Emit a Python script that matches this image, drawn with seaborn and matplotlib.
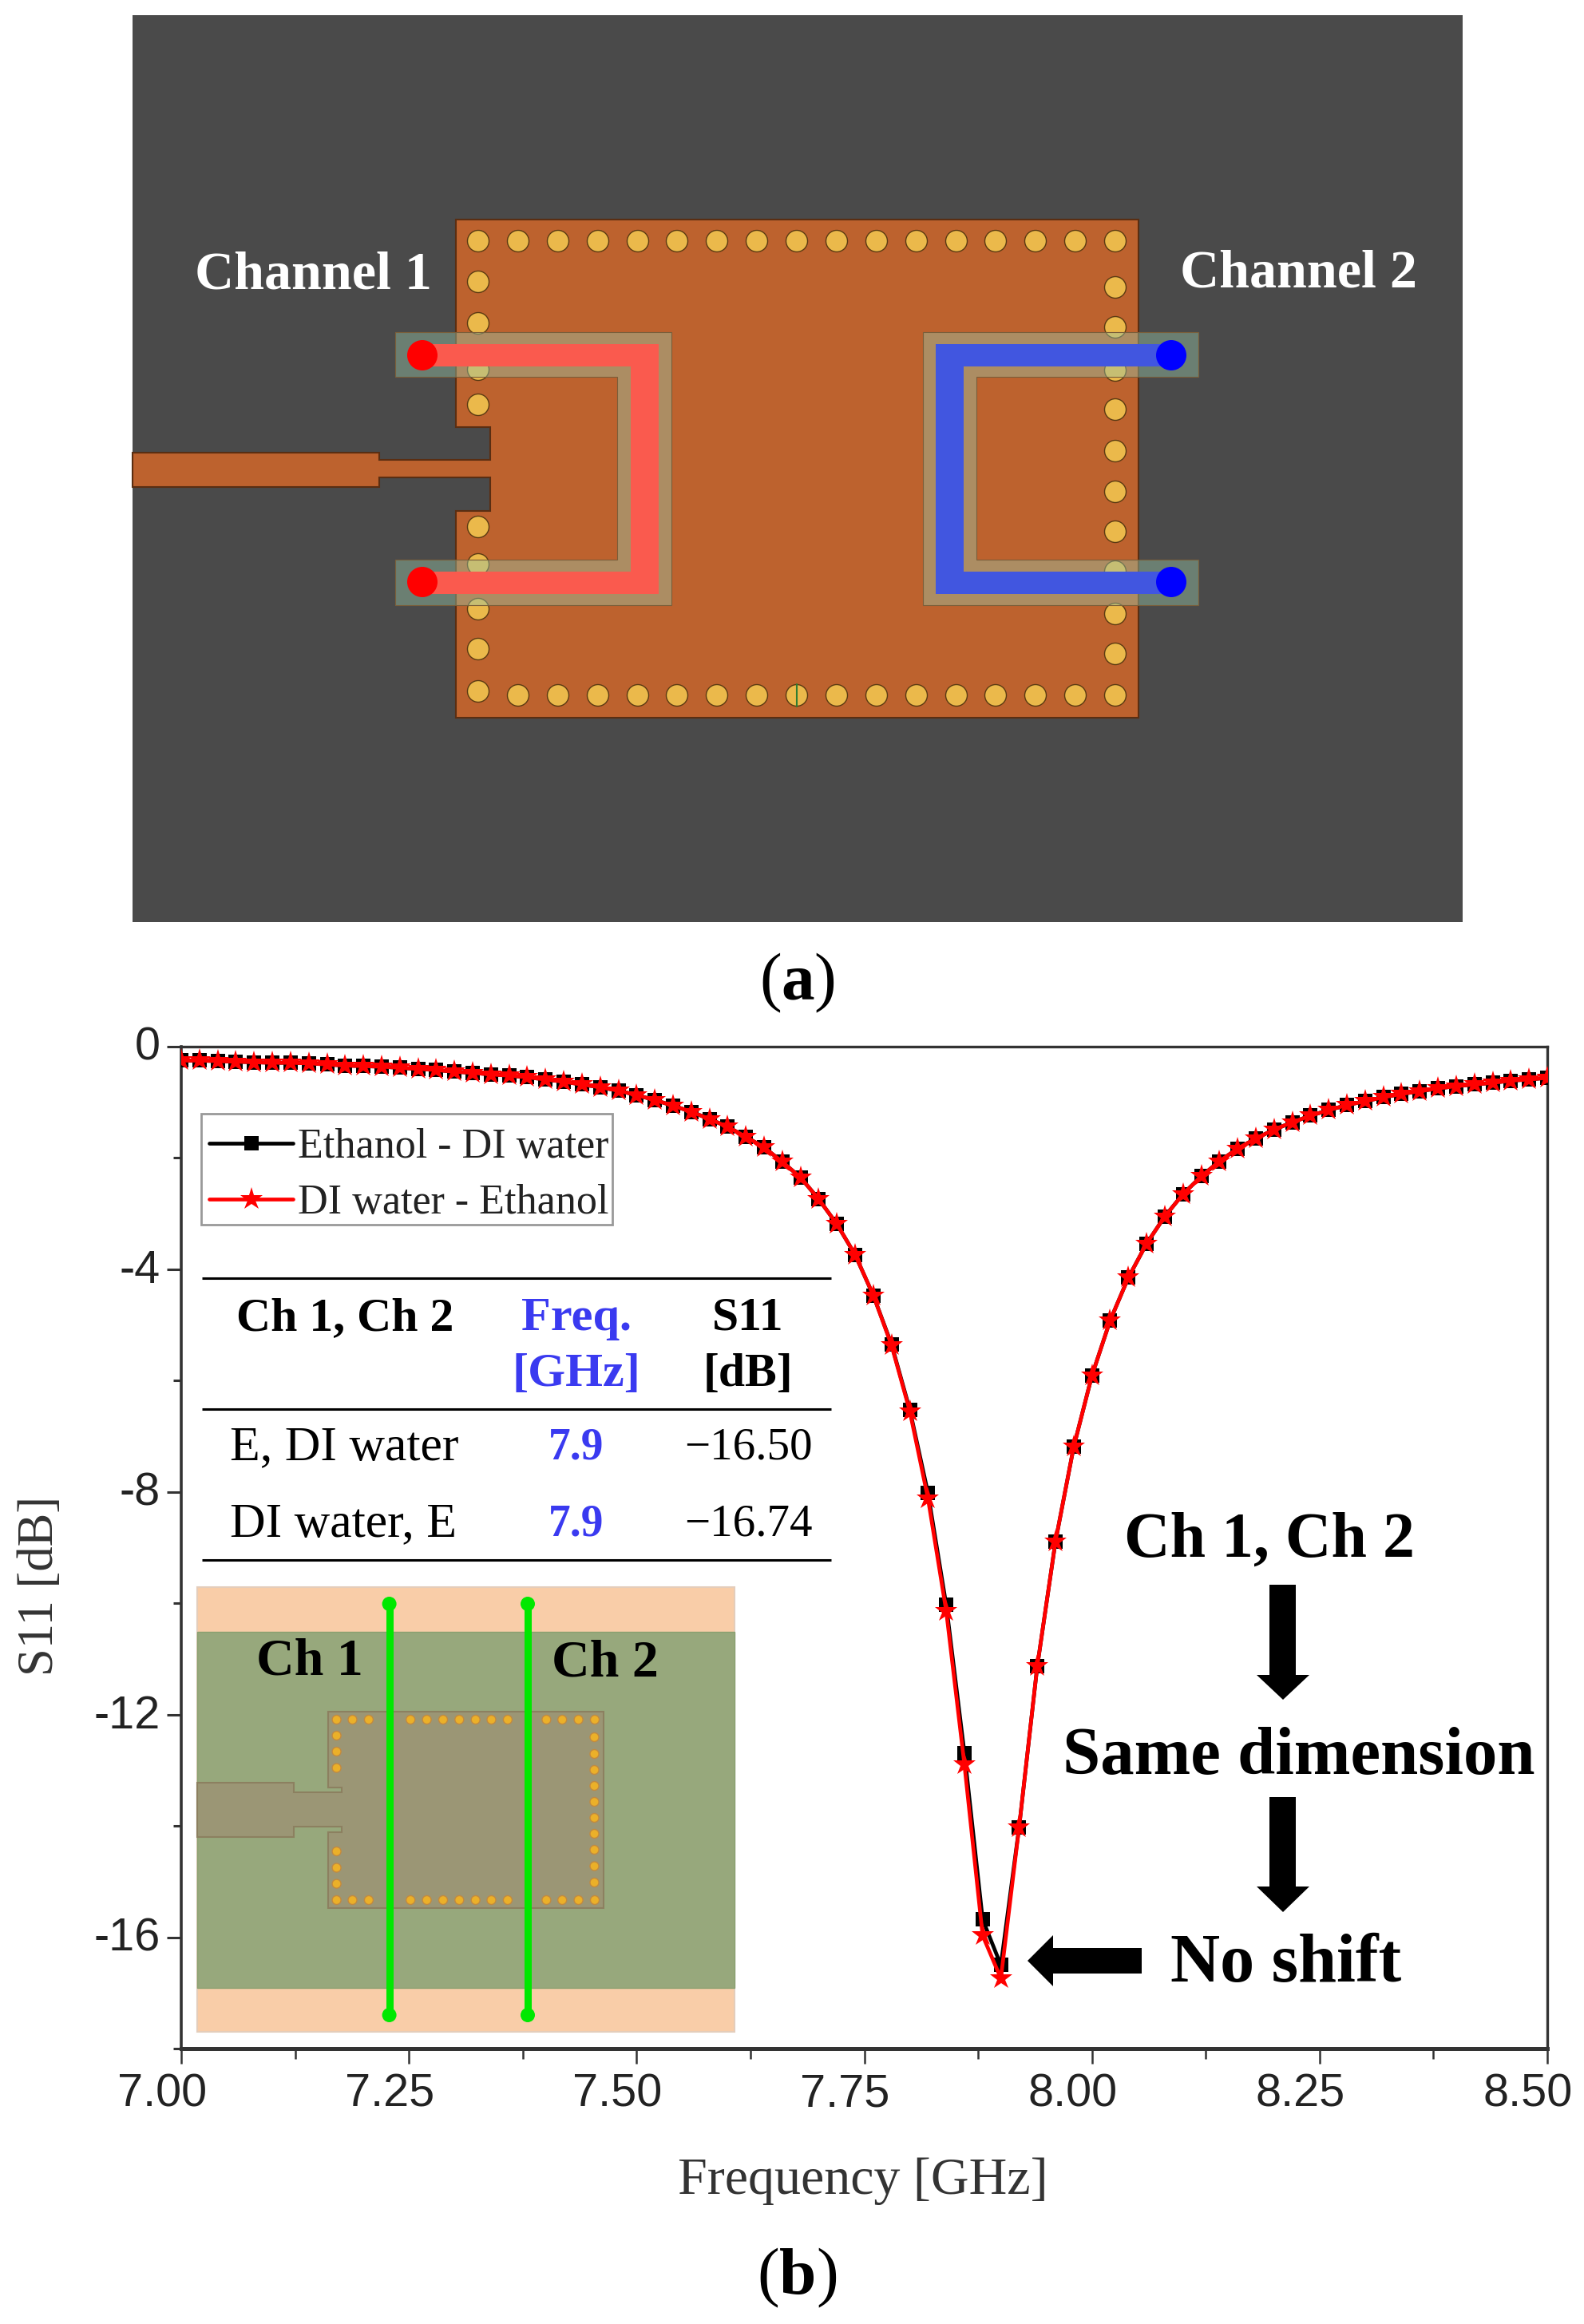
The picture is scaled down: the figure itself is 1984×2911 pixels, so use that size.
import matplotlib
matplotlib.use("Agg")
import matplotlib.pyplot as plt
from matplotlib.patches import Circle, Polygon, Rectangle
from matplotlib.ticker import FixedLocator, FixedFormatter
from matplotlib.transforms import ScaledTranslation
import seaborn as sns

# S11 curves
freq = [7.00, 7.02, 7.04, 7.06, 7.08, 7.10, 7.12, 7.14, 7.16, 7.18,
        7.20, 7.22, 7.24, 7.26, 7.28, 7.30, 7.32, 7.34, 7.36, 7.38,
        7.40, 7.42, 7.44, 7.46, 7.48, 7.50, 7.52, 7.54, 7.56, 7.58,
        7.60, 7.62, 7.64, 7.66, 7.68, 7.70, 7.72, 7.74, 7.76, 7.78,
        7.80, 7.82, 7.84, 7.86, 7.88, 7.90, 7.92, 7.94, 7.96, 7.98,
        8.00, 8.02, 8.04, 8.06, 8.08, 8.10, 8.12, 8.14, 8.16, 8.18,
        8.20, 8.22, 8.24, 8.26, 8.28, 8.30, 8.32, 8.34, 8.36, 8.38,
        8.40, 8.42, 8.44, 8.46, 8.48, 8.50]
ethanol_di = [-0.25, -0.25, -0.26, -0.27, -0.28, -0.29, -0.29, -0.30, -0.32, -0.34,
              -0.35, -0.36, -0.38, -0.40, -0.42, -0.45, -0.47, -0.50, -0.52, -0.55,
              -0.59, -0.63, -0.68, -0.73, -0.79, -0.87, -0.96, -1.06, -1.17, -1.30,
              -1.44, -1.62, -1.81, -2.07, -2.35, -2.74, -3.19, -3.74, -4.47, -5.35,
              -6.52, -8.02, -10.03, -12.69, -15.68, -16.50, -14.03, -11.13, -8.89, -7.19,
              -5.91, -4.92, -4.15, -3.54, -3.05, -2.65, -2.33, -2.06, -1.83, -1.65,
              -1.49, -1.36, -1.24, -1.14, -1.05, -0.98, -0.91, -0.85, -0.80, -0.75,
              -0.71, -0.68, -0.65, -0.61, -0.59, -0.56]
di_ethanol = [-0.25, -0.25, -0.26, -0.27, -0.28, -0.29, -0.29, -0.30, -0.32, -0.34,
              -0.35, -0.36, -0.38, -0.40, -0.42, -0.45, -0.47, -0.50, -0.52, -0.55,
              -0.59, -0.63, -0.68, -0.73, -0.79, -0.87, -0.96, -1.06, -1.17, -1.30,
              -1.44, -1.62, -1.81, -2.07, -2.35, -2.74, -3.19, -3.74, -4.47, -5.37,
              -6.55, -8.12, -10.14, -12.90, -15.97, -16.74, -14.03, -11.13, -8.89, -7.19,
              -5.91, -4.92, -4.15, -3.54, -3.05, -2.65, -2.33, -2.06, -1.83, -1.65,
              -1.49, -1.36, -1.24, -1.14, -1.05, -0.98, -0.91, -0.85, -0.80, -0.75,
              -0.71, -0.68, -0.65, -0.61, -0.59, -0.56]

x_ticks = [7.00, 7.25, 7.50, 7.75, 8.00, 8.25, 8.50]
x_labels = ["7.00", "7.25", "7.50", "7.75", "8.00", "8.25", "8.50"]
x_minor = [7.125, 7.375, 7.625, 7.875, 8.125, 8.375]
y_ticks = [0, -4, -8, -12, -16]
y_labels = ["0", "-4", "-8", "-12", "-16"]
y_minor = [-2, -6, -10, -14, -18]

# table text
table_head = ["Ch 1, Ch 2", "Freq.\n[GHz]", "S11\n[dB]"]
table_names = ["E, DI water", "DI water, E"]
table_freq = ["7.9", "7.9"]
table_s11 = ["\u221216.50", "\u221216.74"]

# via rows of the top layout and the small inset (pixel positions)
via_top_x = [599, 649, 699, 749, 799, 848, 898, 948, 998, 1048, 1098, 1148, 1198, 1247, 1297, 1347, 1397]
via_left_y = [302, 353, 405, 463, 507, 660, 707, 763, 813, 866]
via_right_y = [302, 360, 410, 464, 513, 565, 616, 666, 716, 769, 819, 871]
inset_via_x = [421.6, 441.5, 461.9, 514.2, 534.6, 555, 575.3, 595.7, 615.5, 635.9, 684.4, 704.2, 724.6, 745]
inset_left_y = [2174, 2194, 2214.5, 2319, 2339.5, 2359.6]
inset_right_y = [2176, 2197, 2217, 2237, 2257, 2277, 2297, 2317, 2337.5, 2358]

W, H = 1984, 2911
SERIF = "Liberation Serif"
BLUE = "#3A3AF0"

sns.set_theme(style="ticks")
plt.rcParams["font.family"] = ["Liberation Sans", "DejaVu Sans"]

fig = plt.figure(figsize=(W / 100, H / 100), dpi=100, facecolor="white")

# ---- chart (b)
ax = fig.add_axes([227 / W, 1 - 2566 / H, (1938 - 227) / W, (2566 - 1311) / H])
sns.lineplot(x=freq, y=ethanol_di, ax=ax, color="black", linewidth=3.4, marker="s",
             markersize=13, markeredgewidth=0, label="Ethanol - DI water", zorder=3)
sns.lineplot(x=freq, y=di_ethanol, ax=ax, color="#FF0000", linewidth=3.4, marker="*",
             markersize=21, markeredgewidth=0, label="DI water - Ethanol", zorder=4)
ax.set_xlim(7.0, 8.5)
ax.set_ylim(-18, 0)
ax.xaxis.set_major_locator(FixedLocator(x_ticks))
ax.xaxis.set_major_formatter(FixedFormatter(x_labels))
ax.xaxis.set_minor_locator(FixedLocator(x_minor))
ax.yaxis.set_major_locator(FixedLocator(y_ticks))
ax.yaxis.set_major_formatter(FixedFormatter(y_labels))
ax.yaxis.set_minor_locator(FixedLocator(y_minor))
ax.tick_params(axis="x", which="major", length=14, width=1.8, color="#333333", labelsize=41.5,
               labelcolor="#222222", pad=8)
ax.tick_params(axis="x", which="minor", length=9, width=1.8, color="#333333")
ax.tick_params(axis="y", which="major", length=13, width=2.2, color="#333333", labelsize=41.5,
               labelcolor="#222222", pad=6)
ax.tick_params(axis="y", which="minor", length=7, width=2.2, color="#333333")
for name, lw in [("left", 2.6), ("right", 2.4), ("top", 2.4), ("bottom", 3.6)]:
    ax.spines[name].set_visible(True)
    ax.spines[name].set_linewidth(lw)
    ax.spines[name].set_color("#333333")
# tick labels sit off their ticks in the reference
for lbl in ax.get_xticklabels():
    lbl.set_transform(lbl.get_transform() + ScaledTranslation(-24 / 100, 0, fig.dpi_scale_trans))
for lbl in ax.get_yticklabels():
    lbl.set_transform(lbl.get_transform() + ScaledTranslation(0, 4 / 100, fig.dpi_scale_trans))

ax.set_xlabel("Frequency [GHz]", family=SERIF, fontsize=47.5, color="#333333", va="baseline")
ax.xaxis.set_label_coords((1081 - 227) / 1711, -(2748 - 2566) / 1255)
ax.set_ylabel("S11 [dB]", family=SERIF, fontsize=45, color="#333333", va="center")
ax.yaxis.set_label_coords(-(227 - 51) / 1711, 1 - (1986 - 1311) / 1255)

# legend frame is drawn apart so the rows can sit low in the box as in the reference
leg = ax.legend(loc="upper left", bbox_to_anchor=(25 / 1711, 1 - 92 / 1255), borderaxespad=0,
                frameon=False, prop={"family": SERIF, "size": 37.5}, handlelength=2.0,
                handletextpad=0.12, labelspacing=0.42, borderpad=0.2)
for txt in leg.get_texts():
    txt.set_color("#222222")

# ---- full figure canvas in pixel coordinates for the layouts and notes
cv = fig.add_axes([0, 0, 1, 1], zorder=5)
cv.set_xlim(0, W)
cv.set_ylim(H, 0)
cv.axis("off")


def poly(points, **kw):
    cv.add_patch(Polygon(points, closed=True, **kw))


def note(x, y, s, size, weight="normal", color="black", ha="center"):
    cv.text(x, y, s, family=SERIF, fontsize=size, fontweight=weight, color=color, ha=ha, va="baseline")


cv.add_patch(Rectangle((252, 1395), 515, 139, fc="none", ec="#999999", lw=2))

# ---- layout (a)
cv.add_patch(Rectangle((166, 19), 1666, 1136, fc="#4A4A4A", ec="none"))
poly([(571, 275), (1426, 275), (1426, 899), (571, 899), (571, 640), (614, 640), (614, 598),
      (475, 598), (475, 610), (166, 610), (166, 567), (475, 567), (475, 576), (614, 576),
      (614, 535), (571, 535)], fc="#BD622E", ec="#5A2E12", lw=1.5)

for x in via_top_x:
    cv.add_patch(Circle((x, 302), 13.5, fc="#EBB94B", ec="#5A3A12", lw=1))
for x in via_top_x[1:]:
    cv.add_patch(Circle((x, 871), 13.5, fc="#EBB94B", ec="#5A3A12", lw=1))
for y in via_left_y[1:]:
    cv.add_patch(Circle((599, y), 13.5, fc="#EBB94B", ec="#5A3A12", lw=1))
for y in via_right_y[1:-1]:
    cv.add_patch(Circle((1397, y), 13.5, fc="#EBB94B", ec="#5A3A12", lw=1))
cv.plot([998, 998], [857, 885], color="#2E7D32", lw=1.5)

band = (150 / 255, 198 / 255, 168 / 255, 0.435)
poly([(495, 416), (841, 416), (841, 758), (495, 758), (495, 701), (773, 701), (773, 472), (495, 472)],
     fc=band, ec="#7A5E3A", lw=0.8)
poly([(1501, 416), (1156, 416), (1156, 758), (1501, 758), (1501, 701), (1223, 701), (1223, 472), (1501, 472)],
     fc=band, ec="#7A5E3A", lw=0.8)
poly([(529, 431), (825, 431), (825, 744), (529, 744), (529, 716), (790, 716), (790, 459), (529, 459)],
     fc="#FA5A4E", ec="none")
poly([(1467, 431), (1172, 431), (1172, 744), (1467, 744), (1467, 716), (1207, 716), (1207, 459), (1467, 459)],
     fc="#4156E0", ec="none")
for y in [445, 729]:
    cv.add_patch(Circle((529, y), 19, fc="#FF0000", ec="none"))
    cv.add_patch(Circle((1467, y), 19, fc="#0000FF", ec="none"))

note(392, 361, "Channel 1", 49, "bold", "white")
note(1626, 360, "Channel 2", 49, "bold", "white")

# panel tags: thin brackets, bold letter
for x, y, letter, half in [(999, 1251, "a", 20), (999, 2873, "b", 23)]:
    note(x - half, y, "(", 60, ha="right")
    note(x, y, letter, 60, "bold")
    note(x + half, y, ")", 60, ha="left")

# ---- table
for y in [1601, 1765, 1954]:
    cv.plot([253, 1041], [y, y], color="black", lw=2.2, solid_capstyle="butt")
note(432, 1666, table_head[0], 43, "bold")
for i, s in enumerate(table_head[1].split("\n")):
    note(722, 1666 + 70 * i, s, 43.5, "bold", BLUE)
for i, s in enumerate(table_head[2].split("\n")):
    note(937, 1666 + 70 * i, s, 43, "bold")
for y, a, b, c in zip([1828, 1924], table_names, table_freq, table_s11):
    note(288, y, a, 44.5, ha="left")
    note(722, y, b, 40, "bold", BLUE)
    note(937, y, c, 41)

# ---- inset layout
cv.add_patch(Rectangle((247, 1988), 673, 557, fc="#F9CDA8", ec="#E4CDBB", lw=1.5))
cv.add_patch(Rectangle((247, 2044), 673, 446, fc="#97A87C", ec="#8AA070", lw=1))
for x in [487.6, 661]:
    cv.plot([x, x], [2009, 2524], color="#00E800", lw=6.5, solid_capstyle="butt")
    cv.add_patch(Circle((x, 2009), 9, fc="#00E800", ec="none"))
    cv.add_patch(Circle((x, 2524), 9, fc="#00E800", ec="none"))
poly([(410.5, 2144), (756, 2144), (756, 2390), (410.5, 2390), (410.5, 2295), (427.5, 2295),
      (427.5, 2288), (368, 2288), (368, 2301), (247, 2301), (247, 2233), (368, 2233), (368, 2245),
      (427.5, 2245), (427.5, 2239), (410.5, 2239)],
     fc=(159 / 255, 140 / 255, 114 / 255, 0.616), ec="#8C8060", lw=1.5)
for x in inset_via_x:
    cv.add_patch(Circle((x, 2154), 5.5, fc="#EBB029", ec="#C28A40", lw=1))
    cv.add_patch(Circle((x, 2380), 5.5, fc="#EBB029", ec="#C28A40", lw=1))
for y in inset_left_y:
    cv.add_patch(Circle((421.6, y), 5.5, fc="#EBB029", ec="#C28A40", lw=1))
for y in inset_right_y:
    cv.add_patch(Circle((744.5, y), 5.5, fc="#EBB029", ec="#C28A40", lw=1))
note(388, 2097, "Ch 1", 47.5, "bold")
note(758, 2099, "Ch 2", 47.5, "bold")

# ---- right hand notes and arrows
note(1590, 1950, "Ch 1, Ch 2", 57.5, "bold")
note(1627, 2222, "Same dimension", 61, "bold")
note(1611, 2482, "No shift", 62, "bold")
for top, base, tip in [(1985, 2098, 2129), (2251, 2363, 2395)]:
    poly([(1590, top), (1623, top), (1623, base), (1640, base), (1607, tip), (1574, base), (1590, base)],
         fc="black", ec="none")
poly([(1287, 2456), (1319, 2424), (1319, 2440), (1430, 2440), (1430, 2472), (1319, 2472), (1319, 2488)],
     fc="black", ec="none")

fig.savefig("out.png", dpi=100)
